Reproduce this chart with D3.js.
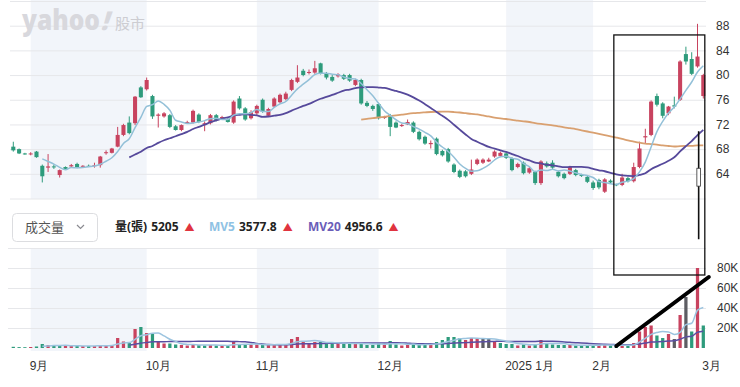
<!DOCTYPE html>
<html>
<head>
<meta charset="utf-8">
<script src="https://cdn.jsdelivr.net/npm/d3@7"></script>
<style>
  html, body { margin: 0; padding: 0; background: #fff; }
  svg { display: block; font-family: "Noto Sans", "Noto Sans CJK TC", sans-serif; }
</style>
</head>
<body>
<div id="chart"></div>
<script>
// Daily candles, index 0 = 2024-08-28 ... index 119 = 2025-03-03
var opens = [68.4,68.0,67.3,67.2,67.6,65.3,65.0,65.2,63.8,65.1, 65.2,65.6,65.2,65.3,65.3,65.4,67.4,67.4,68.4,70.3,
  72.3,72.2,78.0,77.7,76.6,73.4,73.3,73.5,71.7,71.1, 72.3,72.3,73.6,72.1,72.2,73.5,73.1,72.9,72.3,76.2,
  74.6,73.0,73.8,76.0,73.4,74.9,75.6,76.1,77.6,78.9, 80.7,80.4,80.4,81.9,80.2,79.7,79.8,80.0,80.0,78.4,
  79.2,75.5,75.0,75.3,73.1,73.5,72.3,71.8,72.0,72.3, 70.8,70.0,68.8,69.7,67.7,68.0,65.5,64.5,64.4,64.0,
  65.6,65.8,66.0,66.8,66.9,67.3,66.5,65.1,65.8,64.2, 64.3,62.5,65.7,65.8,64.3,64.0,64.0,64.6,63.8,63.5,
  62.6,63.0,61.1,62.9,62.3,62.2,63.3,62.8,65.1,69.9, 70.3,76.6,75.4,73.8,75.1,76.0,83.4,82.6,81.4,76.6];
var highs = [69.2,68.1,67.4,67.5,67.7,65.5,67.2,65.5,64.7,65.2, 65.6,65.8,65.4,65.5,65.8,66.9,67.8,68.2,71.6,72.1,
  73.3,76.6,78.2,79.6,76.8,73.8,74.0,73.7,71.9,72.0, 72.6,74.4,73.8,72.5,73.7,73.7,73.4,73.0,75.9,76.6,
  74.8,74.3,75.2,76.2,74.7,76.4,77.0,77.3,79.4,81.6, 81.0,80.9,82.3,82.0,80.5,80.0,80.3,80.2,80.2,79.4,
  79.4,75.8,75.2,75.5,73.4,73.7,72.5,72.1,72.8,72.5, 71.0,70.2,69.4,69.9,67.9,68.2,65.7,64.7,64.6,66.3,
  66.5,66.5,66.6,67.8,67.6,67.5,66.7,65.8,66.0,65.1, 64.5,66.2,66.0,66.2,64.5,64.2,65.3,64.8,64.0,63.7,
  62.9,63.2,63.3,63.1,62.4,64.0,63.5,65.8,69.2,71.3, 75.9,77.0,75.6,75.0,76.5,82.4,84.6,83.7,88.3,80.2];
var lows = [67.6,67.2,67.1,67.0,66.6,62.6,64.3,64.8,63.4,64.7, 65.0,64.9,65.0,65.1,65.0,65.0,67.1,67.3,68.3,70.1,
  70.4,71.9,76.3,77.5,72.9,71.5,73.1,71.4,71.0,70.9, 72.2,72.1,72.2,70.9,72.0,72.5,72.9,72.3,72.1,74.4,
  72.6,72.8,73.5,73.9,73.2,74.7,75.4,75.9,77.4,78.7, 79.8,80.1,80.2,80.1,79.3,78.9,79.6,79.2,78.9,78.2,
  75.2,74.8,74.2,72.8,72.9,70.1,71.4,71.6,71.9,70.6, 69.4,68.7,68.1,67.0,66.8,65.8,64.1,63.3,63.4,63.8,
  65.4,65.6,65.9,66.6,66.7,66.4,64.4,64.9,63.9,64.0, 62.2,62.2,65.0,64.8,63.4,63.1,63.8,63.6,63.5,62.5,
  61.4,61.5,60.9,62.4,62.0,62.0,62.6,62.6,64.9,68.9, 70.1,74.9,73.0,73.5,74.6,75.8,81.7,80.0,81.2,76.2];
var closes = [67.8,67.3,67.2,67.3,66.7,63.6,65.2,65.1,64.6,64.8, 65.4,65.0,65.3,65.2,65.4,66.8,67.5,68.1,70.3,71.9,
  70.6,76.5,76.4,79.2,73.3,73.6,73.8,71.6,71.1,71.9, 72.4,74.2,72.4,72.2,73.5,72.7,73.2,72.4,75.7,74.6,
  72.8,74.0,75.0,74.1,74.5,76.2,76.8,77.0,79.2,79.6, 80.0,80.5,81.1,80.3,79.6,79.1,80.1,79.4,79.1,79.2,
  75.4,75.0,74.5,73.0,73.2,71.6,71.5,71.9,72.4,70.8, 69.6,68.9,69.0,67.2,67.0,66.0,64.3,63.5,63.6,64.7,
  66.3,66.3,66.3,67.6,67.4,66.6,64.6,65.6,64.1,64.9, 62.5,66.0,65.2,65.0,63.6,63.3,65.1,63.8,63.7,62.7,
  61.7,61.8,63.1,62.6,62.2,63.4,62.8,65.1,68.1,70.1, 75.7,75.2,73.4,74.9,74.9,82.2,82.2,80.2,83.0,80.0];
// volume in 張
var volumes = [1200,900,800,1000,1500,4000,3000,2500,2000,2000, 2000,2500,2000,2000,2000,3000,2500,3000,10000,6500,
  5000,19000,21000,15000,14000,6000,4500,4500,3500,3000, 2500,3500,3000,2500,3000,2500,2500,2500,6000,4000,
  3500,3000,3500,3500,3000,3500,4000,3500,9000,11000, 6000,5000,6000,6000,5000,5000,4500,4000,5000,4000,
  5000,3000,3000,5000,3000,7000,3500,2500,3000,3500, 4000,4000,3000,6000,8000,11000,11000,10000,8000,10000,
  10000,9000,9000,7000,5000,4000,4000,2500,3500,2500, 3500,8000,4500,3500,3000,3000,3000,2500,2500,3000,
  3000,3000,3500,2500,2000,3000,3000,5000,16500,21000, 22500,12500,10000,14000,9000,33000,51000,16500,80000,22500];

var monthLabels = ["9月", "10月", "11月", "12月", "2025 1月", "2月", "3月"];
var monthStarts = [3, 23, 42, 63, 85, 100, 119];   // index of first trading day
var shadedMonths = [0, 2, 4];                      // Sep, Nov, Jan get the pale band
var priceGrid = [60, 64, 68, 72, 76, 80, 84, 88, 92];
var priceLabels = [64, 68, 72, 76, 80, 84, 88];
var volGrid = [20000, 40000, 60000, 80000, 100000];
var volLabels = [20000, 40000, 60000, 80000];

// legend readout (hovered day)
var legendVol = "5205", legendMv5 = "3577.8", legendMv20 = "4956.6";

// hand-drawn markup on the screenshot, in data units
var markBox = {i0: 103.57, i1: 119.26, priceTop: 86.5, volBottom: 73000};
var markArrow = {i0: 104.0, v0: 2000, i1: 119.95, v1: 71000};
var markStick = {i: 118.2, pTop: 70.9, pBottom: 53.4, boxTop: 64.9, boxBottom: 62.0};

var width = 740, height = 387;
var red = "#c8435f", green = "#2e9b7c", grey = "#5d5d63";

var svg = d3.select("#chart").append("svg")
    .attr("width", width)
    .attr("height", height);

var n = closes.length;
var idx = d3.range(n);

// Scales
var x = d3.scaleBand().domain(idx).range([10.4, 706.2]).paddingInner(0.3).paddingOuter(0.15);
var cx = function(i) { return x(i) + x.bandwidth() / 2; };
var xi = d3.scaleLinear().domain([0, n - 1]).range([cx(0), cx(n - 1)]);
var y = d3.scaleLinear().domain([60, 92]).range([198.5, 1]);
var yv = d3.scaleLinear().domain([0, 100000]).range([348, 248]);

// Month shading
shadedMonths.forEach(function(k) {
  var x0 = cx(monthStarts[k]), x1 = cx(monthStarts[k + 1]);
  svg.append("rect").attr("x", x0).attr("y", 0).attr("width", x1 - x0).attr("height", 199).attr("fill", "#f2f5fa");
  svg.append("rect").attr("x", x0).attr("y", 249).attr("width", x1 - x0).attr("height", 102).attr("fill", "#f2f5fa");
});

// Price axis + grid
var pAxis = svg.append("g")
    .attr("transform", "translate(706,0)")
    .call(d3.axisRight(y).tickValues(priceGrid).tickSize(-696).tickPadding(10)
      .tickFormat(function(d) { return priceLabels.indexOf(d) >= 0 ? d : ""; }));
pAxis.select(".domain").remove();
pAxis.selectAll("line").attr("stroke", "#e6e7ea");
pAxis.selectAll("text").attr("fill", "#333").style("font-size", "12px");

// Volume axis + grid
var vAxis = svg.append("g")
    .attr("transform", "translate(706,0)")
    .call(d3.axisRight(yv).tickValues(volGrid).tickSize(-698).tickPadding(11)
      .tickFormat(function(d) { return volLabels.indexOf(d) >= 0 ? (d / 1000) + "K" : ""; }));
vAxis.select(".domain").remove();
vAxis.selectAll("line").attr("stroke", "#e6e7ea");
vAxis.selectAll("text").attr("fill", "#333").style("font-size", "12px");

// Month axis
var mAxis = svg.append("g")
    .attr("transform", "translate(0,357)")
    .call(d3.axisBottom(x).tickValues(monthStarts).tickSize(0).tickPadding(0)
      .tickFormat(function(d, k) { return monthLabels[k]; }));
mAxis.select(".domain").remove();
mAxis.selectAll("text")
    .attr("fill", "#333")
    .attr("text-anchor", "start")
    .attr("dx", "-1")
    .attr("dy", "13")
    .style("font-size", "12px");

// Watermark
var wm = svg.append("g").attr("fill", "#d8d8dd");
wm.append("text").attr("x", 22).attr("y", 30).attr("textLength", 78).attr("lengthAdjust", "spacingAndGlyphs")
    .style("font-size", "28px").style("font-weight", 900).text("yahoo");
wm.append("text").attr("x", 101).attr("y", 30).attr("transform", "skewX(-18) translate(9,0)")
    .style("font-size", "26px").style("font-weight", 900).text("!");
wm.append("text").attr("x", 115).attr("y", 29).attr("fill", "#cdcdd2")
    .style("font-size", "15px").style("font-family", "Noto Sans CJK TC").text("股市");

// Moving averages over the closes / volumes
function movingAvg(arr, len) {
  var out = [];
  for (var i = len; i < arr.length; i++) {
    out.push({i: i, v: d3.mean(arr.slice(i - len + 1, i + 1))});
  }
  return out;
}

// Candles
var colorOf = function(i) { return closes[i] >= opens[i] ? red : green; };
svg.append("g").selectAll("line")
    .data(idx)
    .enter().append("line")
    .attr("x1", cx).attr("x2", cx)
    .attr("y1", function(i) { return y(highs[i]); })
    .attr("y2", function(i) { return y(lows[i]); })
    .attr("stroke", colorOf)
    .attr("stroke-width", 1);
svg.append("g").selectAll("rect")
    .data(idx)
    .enter().append("rect")
    .attr("x", function(i) { return x(i); })
    .attr("width", x.bandwidth())
    .attr("y", function(i) { return y(Math.max(opens[i], closes[i])); })
    .attr("height", function(i) { return Math.max(1, Math.abs(y(opens[i]) - y(closes[i]))); })
    .attr("fill", colorOf);

var line = d3.line()
    .x(function(d) { return cx(d.i); })
    .y(function(d) { return y(d.v); })
    .curve(d3.curveMonotoneX);

svg.append("path").datum(movingAvg(closes, 60)).attr("d", line)
    .attr("fill", "none").attr("stroke", "#d9a070").attr("stroke-width", 1.8);
svg.append("path").datum(movingAvg(closes, 20)).attr("d", line)
    .attr("fill", "none").attr("stroke", "#56499b").attr("stroke-width", 1.8);
svg.append("path").datum(movingAvg(closes, 5)).attr("d", line)
    .attr("fill", "none").attr("stroke", "#93c0d8").attr("stroke-width", 1.5);

// Volume bars: coloured by close vs previous close
var volColor = function(i) {
  var prev = i > 0 ? closes[i - 1] : opens[i];
  var diff = closes[i] - prev;
  if (Math.abs(diff) < 1e-9) return grey;
  return diff > 0 ? red : green;
};
var vw = x.bandwidth() * 0.8;
svg.append("g").selectAll("rect")
    .data(idx)
    .enter().append("rect")
    .attr("x", function(i) { return cx(i) - vw / 2; })
    .attr("width", vw)
    .attr("y", function(i) { return yv(volumes[i]); })
    .attr("height", function(i) { return yv(0) - yv(volumes[i]); })
    .attr("fill", volColor);

var vline = d3.line()
    .x(function(d) { return cx(d.i); })
    .y(function(d) { return yv(d.v); })
    .curve(d3.curveMonotoneX);
svg.append("path").datum(movingAvg(volumes, 20)).attr("d", vline)
    .attr("fill", "none").attr("stroke", "#5a4ea2").attr("stroke-width", 1.5);
svg.append("path").datum(movingAvg(volumes, 5)).attr("d", vline)
    .attr("fill", "none").attr("stroke", "#9cc4df").attr("stroke-width", 1.5);

// Volume selector + legend
svg.append("rect").attr("x", 12.5).attr("y", 213.5).attr("width", 85).attr("height", 28).attr("rx", 4)
    .attr("fill", "#fff").attr("stroke", "#dcdde0");
svg.append("text").attr("x", 25).attr("y", 232).attr("fill", "#555")
    .style("font-size", "13px").style("font-family", "Noto Sans CJK TC").text("成交量");
svg.append("path").attr("d", "M77,225 L80.5,228.5 L84,225")
    .attr("fill", "none").attr("stroke", "#8a8a90").attr("stroke-width", 1.2);

var legend = [
  {x: 115, name: "量(張)", nameFill: "#222", value: legendVol},
  {x: 209, name: "MV5", nameFill: "#8fc2e4", value: legendMv5},
  {x: 308, name: "MV20", nameFill: "#6a5db8", value: legendMv20}
];
var lt = svg.append("g").selectAll("text")
    .data(legend)
    .enter().append("text")
    .attr("x", function(d) { return d.x; })
    .attr("y", 231)
    .style("font-size", "12px")
    .style("font-weight", "bold");
lt.append("tspan")
    .attr("fill", function(d) { return d.nameFill; })
    .text(function(d) { return d.name; });
lt.append("tspan")
    .attr("dx", 4)
    .attr("fill", "#222")
    .text(function(d) { return d.value; });
lt.append("tspan")
    .attr("dx", 6)
    .attr("fill", "#e0343f")
    .style("font-size", "10px")
    .style("font-weight", "normal")
    .text("▲");

// Hand-drawn markup
svg.append("rect")
    .attr("x", xi(markBox.i0)).attr("y", y(markBox.priceTop))
    .attr("width", xi(markBox.i1) - xi(markBox.i0))
    .attr("height", yv(markBox.volBottom) - y(markBox.priceTop))
    .attr("fill", "none").attr("stroke", "#111").attr("stroke-width", 1.3);
svg.append("line")
    .attr("x1", xi(markArrow.i0)).attr("y1", yv(markArrow.v0))
    .attr("x2", xi(markArrow.i1)).attr("y2", yv(markArrow.v1))
    .attr("stroke", "#000").attr("stroke-width", 4).attr("stroke-linecap", "round");
svg.append("line")
    .attr("x1", xi(markStick.i)).attr("x2", xi(markStick.i))
    .attr("y1", y(markStick.pTop)).attr("y2", y(markStick.pBottom))
    .attr("stroke", "#111").attr("stroke-width", 1.6);
svg.append("rect")
    .attr("x", xi(markStick.i) - 1.8).attr("width", 3.6)
    .attr("y", y(markStick.boxTop)).attr("height", y(markStick.boxBottom) - y(markStick.boxTop))
    .attr("fill", "#fff").attr("stroke", "#333").attr("stroke-width", 0.8);
</script>
</body>
</html>
